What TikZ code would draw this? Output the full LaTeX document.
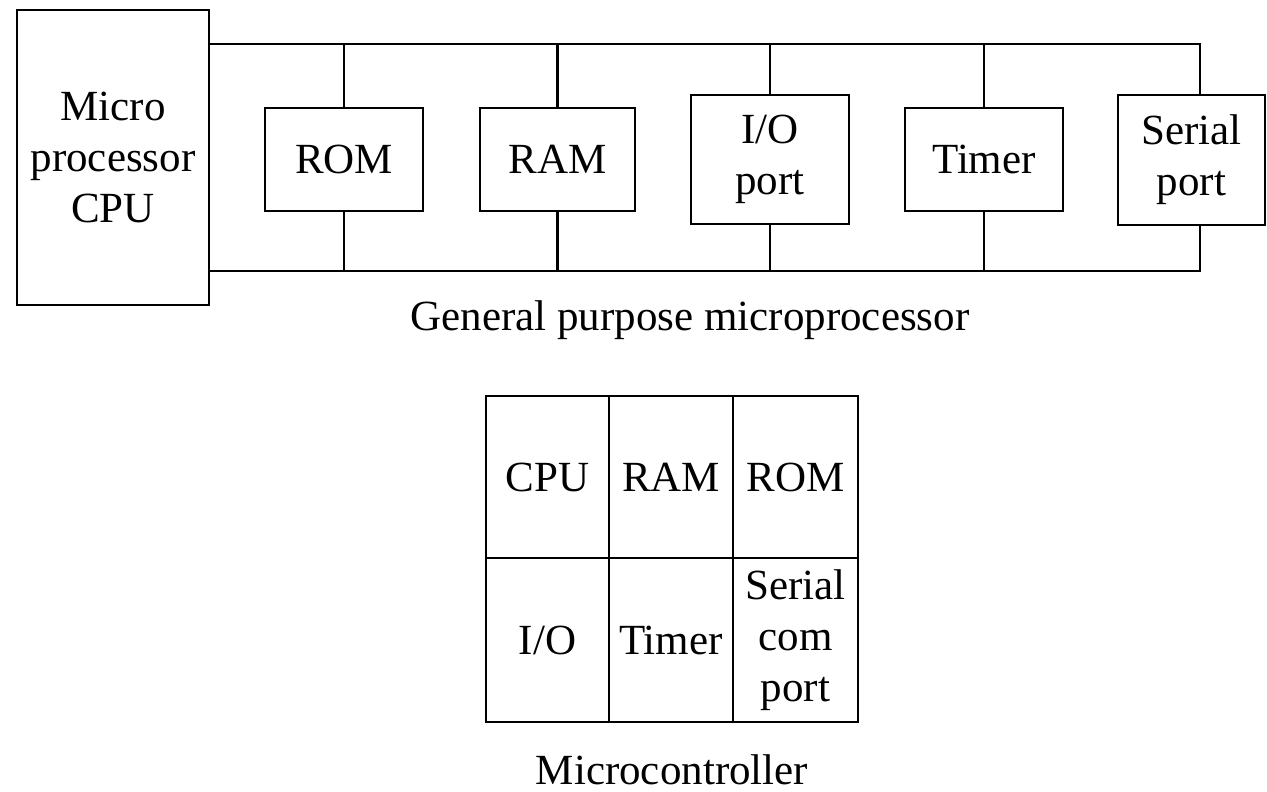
\documentclass[tikz,border=0pt]{standalone}
\usepackage{fontspec}
\setmainfont{Liberation Serif}
\begin{document}
\begin{tikzpicture}[x=1pt,y=-1pt,
  every node/.style={font=\fontsize{43}{51}\selectfont, align=center, inner sep=0pt},
  box/.style={draw, line width=2.4pt},
  bus/.style={line width=2.4pt},
  lbl/.style={}]
\useasboundingbox (0,0) rectangle (1267,792);
% CPU
\node[box, minimum width=192pt, minimum height=295pt] (cpu) at (113,157.5) {Micro\\processor\\CPU};
% peripherals
\node[box, minimum width=158pt, minimum height=103pt] (rom) at (344,159.5) {ROM};
\node[box, minimum width=155pt, minimum height=103pt] (ram) at (557.5,159.5) {RAM};
\node[box, minimum width=158pt, minimum height=129pt] (io) at (770,159.5) {I/O\\port};
\node[box, minimum width=158pt, minimum height=103pt] (tim) at (984,159.5) {Timer};
\node[box, minimum width=147pt, minimum height=130pt] (ser) at (1191.5,160) {Serial\\port};
% bus
\coordinate (tl) at (209,44);
\coordinate (tr) at (1200,44);
\coordinate (bl) at (209,271);
\coordinate (br) at (1200,271);
\draw[bus] (tl) -- (tr) -- (tr |- ser.north);
\draw[bus] (bl) -- (br) -- (br |- ser.south);
\foreach \n in {rom,ram,io,tim}{
  \draw[bus] (\n.north) -- (\n.north |- tl);
  \draw[bus] (\n.south) -- (\n.south |- bl);
}
\node[lbl] (gp) at (690,320) {General purpose microprocessor};
% microcontroller grid
\node[box, minimum width=123pt, minimum height=162pt] (c11) at (547.5,477) {CPU};
\node[box, minimum width=124pt, minimum height=162pt] (c12) at (671,477) {RAM};
\node[box, minimum width=125pt, minimum height=162pt] (c13) at (795.5,477) {ROM};
\node[box, minimum width=123pt, minimum height=164pt] (c21) at (547.5,640) {I/O};
\node[box, minimum width=124pt, minimum height=164pt] (c22) at (671,640) {Timer};
\node[box, minimum width=125pt, minimum height=164pt] (c23) at (795.5,640) {Serial\\com\\port};
\node[lbl] (mc) at (672,770) {Microcontroller};
\end{tikzpicture}
\end{document}
